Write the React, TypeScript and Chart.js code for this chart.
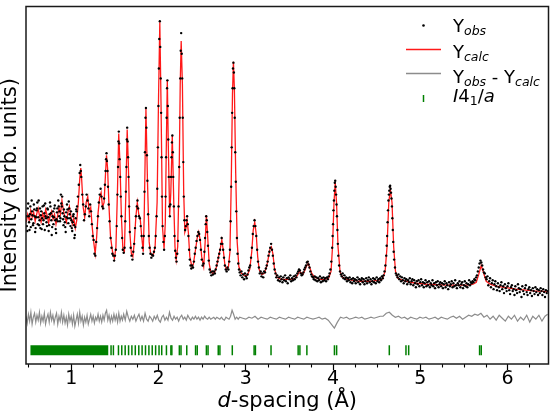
import { useEffect, useRef } from "react";
import { Chart, registerables } from "chart.js";
Chart.register(...registerables);

// ---------- axis ranges & ticks ----------
const xMin = 0.48;
const xMax = 6.47;
const yMin = 0;
const yMax = 363;
const xMajorTicks = [1, 2, 3, 4, 5, 6];
const xMinorTicks = [0.5, 0.75, 1.25, 1.5, 1.75, 2.25, 2.5, 2.75, 3.25, 3.5, 3.75, 4.25, 4.5, 4.75, 5.25, 5.5, 5.75, 6.25];

// ---------- calculated pattern (d, intensity) ----------
const calcPoints: [number, number][] = [
  [0.483, 144], [0.5, 152], [0.517, 146], [0.534, 156], [0.551, 149], [0.568, 154], [0.585, 145], [0.602, 152],
  [0.619, 158], [0.636, 150], [0.653, 144], [0.67, 153], [0.688, 148], [0.705, 157], [0.722, 151], [0.739, 143],
  [0.756, 150], [0.773, 155], [0.79, 147], [0.807, 152], [0.824, 142], [0.841, 150], [0.858, 159], [0.875, 152],
  [0.892, 166], [0.909, 156], [0.926, 149], [0.943, 144], [0.96, 154], [0.977, 160], [0.994, 151], [1.011, 142],
  [1.028, 148], [1.045, 138], [1.062, 146], [1.08, 164], [1.097, 189], [1.108, 199], [1.119, 186], [1.136, 159],
  [1.153, 149], [1.17, 164], [1.188, 170], [1.205, 154], [1.222, 159], [1.239, 139], [1.256, 124], [1.273, 112],
  [1.29, 129], [1.307, 154], [1.324, 169], [1.341, 174], [1.358, 159], [1.375, 164], [1.392, 194], [1.403, 212],
  [1.415, 199], [1.432, 159], [1.449, 129], [1.472, 114], [1.494, 107], [1.511, 119], [1.528, 174], [1.543, 234],
  [1.557, 204], [1.574, 149], [1.591, 116], [1.608, 114], [1.625, 174], [1.64, 238], [1.653, 204], [1.67, 134],
  [1.688, 112], [1.705, 109], [1.722, 124], [1.739, 149], [1.756, 164], [1.773, 152], [1.79, 147], [1.807, 129],
  [1.824, 114], [1.835, 149], [1.855, 259], [1.873, 184], [1.892, 124], [1.909, 112], [1.926, 110], [1.943, 112],
  [1.96, 119], [1.983, 164], [2.0, 274], [2.014, 347], [2.028, 264], [2.045, 139], [2.063, 117], [2.077, 144],
  [2.089, 224], [2.1, 288], [2.111, 224], [2.127, 151], [2.14, 174], [2.157, 232], [2.174, 164], [2.188, 119],
  [2.202, 106], [2.219, 119], [2.236, 194], [2.248, 284], [2.259, 328], [2.273, 284], [2.288, 174], [2.301, 134],
  [2.316, 139], [2.327, 146], [2.341, 134], [2.358, 109], [2.381, 99], [2.398, 101], [2.42, 114], [2.443, 128],
  [2.46, 134], [2.477, 126], [2.494, 109], [2.517, 99], [2.534, 124], [2.548, 151], [2.563, 129], [2.58, 102],
  [2.597, 94], [2.62, 92], [2.642, 93], [2.665, 99], [2.688, 109], [2.705, 116], [2.725, 126], [2.744, 114],
  [2.761, 100], [2.782, 96], [2.801, 99], [2.818, 114], [2.833, 184], [2.847, 274], [2.858, 307], [2.869, 279],
  [2.884, 194], [2.901, 124], [2.92, 99], [2.949, 92], [2.983, 90], [3.017, 90], [3.045, 96], [3.068, 114],
  [3.085, 136], [3.102, 144], [3.119, 132], [3.136, 109], [3.153, 96], [3.182, 91], [3.21, 92], [3.239, 99],
  [3.261, 109], [3.278, 117], [3.293, 119], [3.31, 112], [3.33, 96], [3.358, 88], [3.403, 86], [3.46, 86],
  [3.517, 86], [3.563, 87], [3.591, 90], [3.614, 94], [3.631, 93], [3.653, 91], [3.676, 95], [3.699, 100],
  [3.716, 102], [3.733, 98], [3.756, 92], [3.79, 88], [3.847, 86], [3.903, 86], [3.949, 87], [3.977, 94],
  [3.994, 119], [4.011, 164], [4.025, 184], [4.04, 164], [4.057, 119], [4.08, 94], [4.108, 88], [4.165, 86],
  [4.233, 85], [4.301, 84], [4.37, 84], [4.438, 84], [4.506, 85], [4.563, 86], [4.597, 94], [4.619, 119],
  [4.639, 164], [4.657, 177], [4.676, 164], [4.695, 119], [4.716, 94], [4.744, 87], [4.801, 85], [4.881, 83],
  [4.96, 82], [5.074, 81], [5.188, 80.5], [5.301, 80], [5.415, 80], [5.528, 80], [5.605, 81], [5.642, 83],
  [5.67, 91], [5.699, 100], [5.727, 92], [5.756, 84], [5.801, 81], [5.869, 79], [5.983, 77.5], [6.097, 76],
  [6.21, 75], [6.324, 74], [6.4, 74], [6.46, 73],
];

// ---------- observed pattern (d, intensity) ----------
const obsPoints: [number, number][] = [
  [0.485, 150], [0.49, 140], [0.495, 135], [0.5, 158], [0.505, 163], [0.51, 150], [0.515, 144], [0.52, 136],
  [0.525, 152], [0.53, 160], [0.535, 139], [0.54, 147], [0.545, 166], [0.55, 155], [0.555, 151], [0.56, 141],
  [0.565, 143], [0.57, 162], [0.575, 157], [0.58, 150], [0.585, 134], [0.59, 138], [0.595, 149], [0.6, 156],
  [0.605, 158], [0.61, 164], [0.615, 142], [0.62, 149], [0.625, 166], [0.63, 141], [0.635, 146], [0.64, 158],
  [0.645, 138], [0.65, 151], [0.655, 155], [0.66, 137], [0.665, 148], [0.67, 160], [0.675, 142], [0.68, 146],
  [0.685, 161], [0.69, 153], [0.695, 136], [0.7, 163], [0.705, 150], [0.71, 148], [0.715, 144], [0.72, 140],
  [0.725, 158], [0.73, 157], [0.735, 149], [0.74, 135], [0.745, 141], [0.75, 152], [0.755, 164], [0.76, 160],
  [0.765, 153], [0.77, 146], [0.775, 131], [0.78, 139], [0.785, 150], [0.79, 155], [0.795, 142], [0.8, 149],
  [0.805, 158], [0.81, 161], [0.815, 146], [0.82, 137], [0.825, 133], [0.83, 147], [0.835, 154], [0.84, 158],
  [0.845, 145], [0.85, 166], [0.855, 160], [0.86, 150], [0.865, 155], [0.87, 145], [0.875, 148], [0.88, 172],
  [0.885, 163], [0.89, 160], [0.895, 170], [0.9, 153], [0.905, 147], [0.91, 141], [0.915, 157], [0.92, 150],
  [0.925, 144], [0.93, 139], [0.935, 134], [0.94, 154], [0.945, 149], [0.95, 162], [0.955, 157], [0.96, 148],
  [0.965, 143], [0.97, 165], [0.975, 158], [0.98, 152], [0.985, 148], [0.99, 140], [0.995, 155], [1.0, 146],
  [1.005, 138], [1.01, 135], [1.015, 144], [1.02, 150], [1.025, 152], [1.03, 141], [1.035, 128], [1.04, 131],
  [1.045, 139], [1.05, 148], [1.055, 157], [1.06, 155], [1.065, 160],
  [1.075, 170], [1.085, 182], [1.095, 194], [1.102, 202], [1.108, 196], [1.114, 190], [1.125, 172], [1.135, 162],
  [1.145, 146], [1.155, 152], [1.165, 160], [1.175, 172], [1.185, 166], [1.195, 158], [1.205, 150], [1.215, 162],
  [1.225, 155], [1.235, 142], [1.245, 130], [1.255, 126], [1.265, 112], [1.275, 110], [1.285, 124], [1.295, 138],
  [1.305, 150], [1.315, 164], [1.325, 172], [1.335, 178], [1.345, 170], [1.355, 160], [1.365, 158], [1.375, 168],
  [1.385, 182], [1.392, 196], [1.398, 208], [1.403, 214], [1.408, 206], [1.414, 196], [1.42, 180], [1.428, 162],
  [1.438, 145], [1.45, 128], [1.46, 118], [1.47, 112], [1.48, 110], [1.49, 105], [1.5, 110], [1.51, 116],
  [1.52, 140], [1.528, 172], [1.535, 200], [1.54, 226], [1.544, 236], [1.548, 224], [1.553, 208], [1.56, 190],
  [1.566, 170], [1.574, 150], [1.582, 128], [1.59, 116], [1.6, 113], [1.61, 118], [1.618, 145], [1.625, 175],
  [1.631, 200], [1.636, 228], [1.64, 240], [1.645, 226], [1.65, 210], [1.656, 190], [1.662, 160], [1.67, 134],
  [1.68, 118], [1.69, 110], [1.7, 106], [1.71, 114], [1.72, 122], [1.73, 138], [1.74, 150], [1.75, 160],
  [1.758, 166], [1.765, 158], [1.775, 150], [1.785, 148], [1.795, 140], [1.805, 130], [1.815, 118], [1.822, 112],
  [1.83, 130], [1.838, 175], [1.844, 215], [1.85, 250], [1.855, 260], [1.86, 240], [1.866, 212], [1.872, 186],
  [1.88, 152], [1.888, 130], [1.897, 118], [1.907, 112], [1.917, 108], [1.927, 111], [1.937, 110], [1.947, 114],
  [1.957, 118], [1.967, 130], [1.977, 150], [1.985, 178], [1.992, 220], [1.998, 262], [2.003, 300], [2.008, 330],
  [2.014, 348], [2.019, 322], [2.024, 290], [2.029, 255], [2.034, 210], [2.039, 170], [2.046, 140], [2.055, 124],
  [2.063, 116], [2.072, 130], [2.08, 170], [2.086, 210], [2.092, 250], [2.097, 280], [2.101, 288], [2.106, 262],
  [2.111, 228], [2.117, 190], [2.123, 160], [2.129, 150], [2.135, 162], [2.142, 190], [2.148, 210], [2.153, 225],
  [2.158, 232], [2.163, 215], [2.168, 190], [2.175, 160], [2.182, 130], [2.19, 115], [2.198, 108], [2.206, 104],
  [2.214, 112], [2.222, 125], [2.229, 160], [2.236, 200], [2.242, 250], [2.248, 290], [2.254, 318], [2.259, 336],
  [2.265, 315], [2.271, 290], [2.277, 250], [2.283, 205], [2.289, 170], [2.296, 146], [2.304, 136], [2.312, 140],
  [2.32, 146], [2.327, 150], [2.334, 142], [2.342, 130], [2.35, 116], [2.358, 106], [2.366, 100], [2.375, 97],
  [2.385, 100], [2.395, 98], [2.405, 104], [2.415, 112], [2.425, 118], [2.435, 125], [2.445, 130], [2.455, 134],
  [2.465, 132], [2.475, 126], [2.485, 116], [2.495, 106], [2.505, 100], [2.515, 102], [2.525, 114], [2.533, 128],
  [2.54, 142], [2.546, 150], [2.552, 146], [2.558, 134], [2.566, 120], [2.575, 105], [2.585, 96], [2.595, 93],
  [2.605, 90], [2.615, 94], [2.625, 91], [2.635, 94], [2.645, 92], [2.655, 96], [2.665, 100], [2.675, 104],
  [2.685, 108], [2.695, 112], [2.705, 116], [2.715, 122], [2.723, 128], [2.731, 122], [2.74, 116], [2.75, 108],
  [2.76, 100], [2.77, 96], [2.78, 94], [2.79, 98], [2.8, 96], [2.81, 104], [2.818, 116], [2.825, 145],
  [2.832, 180], [2.838, 220], [2.843, 255], [2.848, 280], [2.853, 300], [2.858, 306], [2.863, 296], [2.868, 280],
  [2.873, 250], [2.879, 215], [2.885, 185], [2.891, 155], [2.898, 128], [2.905, 112], [2.913, 102], [2.922, 96],
  [2.93, 93], [2.94, 90], [2.95, 94], [2.96, 88], [2.97, 91], [2.98, 86], [2.99, 92], [3.0, 89],
  [3.01, 87], [3.02, 91], [3.03, 95], [3.04, 98], [3.05, 100], [3.06, 108], [3.07, 118], [3.08, 132],
  [3.09, 140], [3.1, 146], [3.11, 140], [3.12, 130], [3.13, 116], [3.14, 104], [3.15, 98], [3.16, 92],
  [3.17, 94], [3.18, 89], [3.19, 92], [3.2, 88], [3.21, 94], [3.22, 93], [3.23, 97], [3.24, 100],
  [3.25, 104], [3.26, 110], [3.27, 114], [3.28, 118], [3.29, 122], [3.3, 116], [3.31, 110], [3.32, 102],
  [3.33, 96], [3.34, 92], [3.35, 88], [3.36, 90], [3.37, 85], [3.38, 88], [3.39, 84], [3.4, 89],
  [3.41, 86], [3.42, 83], [3.43, 88], [3.44, 85], [3.45, 90], [3.46, 84], [3.47, 87], [3.48, 82],
  [3.49, 88], [3.5, 86], [3.51, 90], [3.52, 84], [3.53, 87], [3.54, 85], [3.55, 89], [3.56, 86],
  [3.57, 90], [3.58, 88], [3.59, 92], [3.6, 94], [3.61, 96], [3.62, 95], [3.63, 92], [3.64, 90],
  [3.65, 91], [3.66, 93], [3.67, 96], [3.68, 98], [3.69, 100], [3.7, 103], [3.71, 104], [3.72, 101],
  [3.73, 98], [3.74, 94], [3.75, 91], [3.76, 89], [3.77, 88], [3.78, 86], [3.79, 89], [3.8, 85],
  [3.81, 88], [3.82, 84], [3.83, 87], [3.84, 85], [3.85, 89], [3.86, 83], [3.87, 87], [3.88, 84],
  [3.89, 88], [3.9, 85], [3.91, 87], [3.92, 84], [3.93, 88], [3.94, 86], [3.95, 89], [3.96, 92],
  [3.97, 96], [3.98, 104], [3.99, 118], [3.995, 130], [4.0, 142], [4.005, 156], [4.01, 166], [4.015, 176],
  [4.02, 184], [4.025, 186], [4.03, 180], [4.035, 172], [4.04, 162], [4.045, 150], [4.05, 136], [4.055, 122],
  [4.06, 110], [4.07, 100], [4.08, 94], [4.09, 91], [4.1, 89], [4.11, 92], [4.12, 87], [4.13, 90],
  [4.14, 86], [4.15, 88], [4.16, 84], [4.17, 87], [4.18, 85], [4.19, 88], [4.2, 83], [4.21, 86],
  [4.22, 82], [4.23, 87], [4.24, 84], [4.25, 86], [4.26, 82], [4.27, 85], [4.28, 88], [4.29, 83],
  [4.3, 86], [4.31, 81], [4.32, 85], [4.33, 87], [4.34, 83], [4.35, 86], [4.36, 81], [4.37, 84],
  [4.38, 87], [4.39, 82], [4.4, 85], [4.41, 88], [4.42, 83], [4.43, 86], [4.44, 81], [4.45, 84],
  [4.46, 87], [4.47, 83], [4.48, 86], [4.49, 82], [4.5, 88], [4.51, 84], [4.52, 86], [4.53, 83],
  [4.54, 87], [4.55, 85], [4.56, 89], [4.57, 87], [4.58, 90], [4.59, 94], [4.6, 100], [4.61, 110],
  [4.615, 120], [4.62, 130], [4.625, 144], [4.63, 156], [4.635, 166], [4.64, 172], [4.645, 176], [4.65, 180],
  [4.655, 181], [4.66, 178], [4.665, 174], [4.67, 168], [4.675, 160], [4.68, 148], [4.685, 136], [4.69, 124],
  [4.695, 114], [4.7, 106], [4.71, 98], [4.72, 92], [4.73, 90], [4.74, 88], [4.75, 91], [4.76, 86],
  [4.77, 89], [4.78, 84], [4.79, 88], [4.8, 85], [4.81, 82], [4.82, 87], [4.83, 84], [4.84, 86],
  [4.85, 81], [4.86, 85], [4.87, 83], [4.88, 87], [4.89, 81], [4.9, 84], [4.91, 86], [4.92, 80],
  [4.93, 85], [4.94, 82], [4.95, 78], [4.96, 84], [4.97, 81], [4.98, 85], [4.99, 79], [5.0, 83],
  [5.01, 86], [5.02, 80], [5.03, 83], [5.04, 78], [5.05, 82], [5.06, 85], [5.07, 79], [5.08, 83],
  [5.09, 80], [5.1, 84], [5.11, 78], [5.12, 82], [5.13, 80], [5.14, 85], [5.15, 79], [5.16, 82],
  [5.17, 77], [5.18, 83], [5.19, 80], [5.2, 84], [5.21, 78], [5.22, 81], [5.23, 83], [5.24, 79],
  [5.25, 82], [5.26, 77], [5.27, 81], [5.28, 84], [5.29, 78], [5.3, 82], [5.31, 80], [5.32, 76],
  [5.33, 83], [5.34, 79], [5.35, 81], [5.36, 84], [5.37, 78], [5.38, 82], [5.39, 79], [5.4, 85],
  [5.41, 80], [5.42, 77], [5.43, 82], [5.44, 80], [5.45, 84], [5.46, 78], [5.47, 81], [5.48, 83],
  [5.49, 77], [5.5, 80], [5.51, 84], [5.52, 79], [5.53, 82], [5.54, 78], [5.55, 81], [5.56, 85],
  [5.57, 80], [5.58, 83], [5.59, 82], [5.6, 84], [5.61, 83], [5.62, 86], [5.63, 85], [5.64, 88],
  [5.65, 90], [5.66, 94], [5.67, 98], [5.68, 102], [5.69, 105], [5.7, 103], [5.71, 100], [5.72, 96],
  [5.73, 93], [5.74, 92], [5.75, 88], [5.76, 86], [5.77, 89], [5.78, 80], [5.79, 84], [5.8, 87],
  [5.81, 78], [5.82, 82], [5.83, 85], [5.84, 76], [5.85, 81], [5.86, 84], [5.87, 79], [5.88, 75],
  [5.89, 82], [5.9, 78], [5.91, 74], [5.92, 80], [5.93, 83], [5.94, 76], [5.95, 79], [5.96, 72],
  [5.97, 81], [5.98, 77], [5.99, 74], [6.0, 79], [6.01, 82], [6.02, 75], [6.03, 71], [6.04, 78],
  [6.05, 80], [6.06, 74], [6.07, 76], [6.08, 70], [6.09, 79], [6.1, 75], [6.11, 72], [6.12, 81],
  [6.13, 77], [6.14, 73], [6.15, 76], [6.16, 68], [6.17, 79], [6.18, 74], [6.19, 71], [6.2, 77],
  [6.21, 80], [6.22, 73], [6.23, 70], [6.24, 76], [6.25, 78], [6.26, 72], [6.27, 75], [6.28, 69],
  [6.29, 77], [6.3, 74], [6.31, 71], [6.32, 78], [6.33, 73], [6.34, 76], [6.35, 70], [6.36, 75],
  [6.37, 72], [6.38, 77], [6.39, 74], [6.4, 70], [6.41, 76], [6.42, 73], [6.43, 68], [6.44, 75],
  [6.45, 72], [6.46, 74],
];

// ---------- difference curve (d, obs - calc) ----------
const diffPoints: [number, number][] = [
  [0.48, 2], [0.494, -5], [0.508, 4], [0.522, -3], [0.536, 6], [0.55, -6], [0.564, 1], [0.578, 5],
  [0.592, -4], [0.606, 3], [0.62, -2], [0.634, 6], [0.648, -5], [0.662, 2], [0.676, -3], [0.69, 5],
  [0.704, -6], [0.718, 0], [0.732, 4], [0.746, -4], [0.76, 6], [0.774, -2], [0.788, 3], [0.802, -5],
  [0.816, 1], [0.83, 5], [0.844, -6], [0.858, 2], [0.872, -3], [0.886, 6], [0.9, -4], [0.914, 3],
  [0.928, -5], [0.942, 1], [0.956, -7], [0.97, 4], [0.984, -3], [0.998, 2], [1.012, -6], [1.026, 3],
  [1.04, -8], [1.054, -2], [1.068, 4], [1.082, -5], [1.096, 6], [1.11, -3], [1.124, 2], [1.138, -7],
  [1.152, 1], [1.166, -4], [1.18, 3], [1.194, -6], [1.208, -1], [1.222, 4], [1.236, -3], [1.25, 2],
  [1.264, -5], [1.278, 1], [1.292, -2], [1.306, 4], [1.32, -3], [1.334, 2], [1.348, -4], [1.362, 3],
  [1.376, -2], [1.39, 5], [1.404, 8], [1.418, -2], [1.432, 3], [1.446, -4], [1.46, 2], [1.474, -3],
  [1.488, 4], [1.502, -2], [1.516, 3], [1.53, -4], [1.544, 5], [1.558, -3], [1.572, 2], [1.586, -2],
  [1.6, 4], [1.6175, -2], [1.635, 7], [1.6525, 1], [1.67, -3], [1.6875, 2], [1.705, -1], [1.7225, 3],
  [1.74, -3], [1.7575, 1], [1.775, 4], [1.7925, -2], [1.81, 2], [1.8275, -3], [1.845, 5], [1.8625, -1],
  [1.88, -3], [1.8975, 2], [1.915, 0], [1.9325, -3], [1.95, 2], [1.9675, -1], [1.985, 3], [2.0025, -2],
  [2.02, -4], [2.0375, 1], [2.055, 3], [2.0725, -2], [2.09, 1], [2.1075, -2], [2.125, 6], [2.1425, 0],
  [2.16, -2], [2.1775, 2], [2.195, -1], [2.2125, 1], [2.23, -3], [2.2475, 1], [2.265, 3], [2.2825, -1],
  [2.3, 1], [2.3175, -2], [2.335, 3], [2.3525, 0], [2.37, -2], [2.3875, 1], [2.405, -1], [2.4225, 2],
  [2.44, -1], [2.4575, 1], [2.475, -2], [2.4925, 1], [2.51, -1], [2.5275, 2], [2.545, 0], [2.5625, -1],
  [2.58, 1], [2.5975, -1], [2.615, 0], [2.6325, 1], [2.65, -1], [2.6675, 1], [2.685, 0], [2.7025, -1],
  [2.72, 1], [2.7375, -1], [2.755, -2], [2.7725, 1], [2.79, 0], [2.8075, -1], [2.825, 2], [2.8425, 8],
  [2.86, 4], [2.8775, -1], [2.895, 1], [2.9125, -1], [2.93, 1], [2.965, 0],
  [3.0, -1], [3.035, 1], [3.07, 0], [3.105, 2], [3.14, -1], [3.175, 1], [3.21, 0], [3.245, -1],
  [3.28, 1], [3.315, 0], [3.35, -1], [3.385, 1], [3.42, 0], [3.455, -1], [3.49, 1], [3.525, 0],
  [3.56, -1], [3.595, 1], [3.63, 0], [3.665, -1], [3.7, 1], [3.735, 0], [3.77, -1], [3.805, 0],
  [3.84, 1], [3.875, -1], [3.91, 0], [3.945, -2], [3.98, -6], [4.015, -10], [4.05, -4], [4.085, 1],
  [4.12, 0], [4.155, 1], [4.19, -1], [4.225, 0], [4.26, 1], [4.295, 0], [4.33, 1], [4.365, -1],
  [4.4, 0], [4.435, 1], [4.47, 0], [4.505, 1], [4.54, 2], [4.575, 2], [4.61, 5], [4.645, 6],
  [4.68, 3], [4.715, 1], [4.75, 2], [4.785, 0], [4.82, 1], [4.855, -1], [4.89, 1], [4.925, 0],
  [4.96, -1], [4.995, 1], [5.03, 0], [5.065, 1], [5.1, -1], [5.135, 0], [5.17, 1], [5.205, -1],
  [5.24, 1], [5.275, 0], [5.31, -1], [5.345, 1], [5.38, 2], [5.415, 0], [5.45, 2], [5.485, -1],
  [5.52, 1], [5.555, 3], [5.59, 2], [5.625, 4], [5.66, 3], [5.695, 5], [5.73, 1], [5.765, 3],
  [5.8, -1], [5.835, 2], [5.87, -2], [5.905, 3], [5.94, 0], [5.975, -3], [6.01, 2], [6.045, -1],
  [6.08, 3], [6.115, -3], [6.15, 1], [6.185, -2], [6.22, 3], [6.255, -4], [6.29, 2], [6.325, -1],
  [6.36, 3], [6.395, -3], [6.43, 2], [6.46, 4],
];
const diffOffset = 46.5;

// ---------- reflection positions (I4_1/a) ----------
const reflDenseRange = [0.531, 1.423];
const reflPositions = [
  1.455, 1.482, 1.54, 1.578, 1.617, 1.656, 1.694, 1.733, 1.773, 1.811, 1.85, 1.889, 1.927, 1.966,
  2.005, 2.036, 2.09, 2.141, 2.152, 2.238, 2.257, 2.323, 2.424, 2.443, 2.548, 2.567, 2.684, 2.703,
  2.845, 3.095, 3.11, 3.289, 3.6, 3.62, 3.7, 4.016, 4.041, 4.645, 4.836, 4.867, 5.68, 5.699,
];
const reflLevel = 14;

const FONT = '"DejaVu Sans", sans-serif';

type Part = { t: string; f: string; dy?: number };
function drawRich(ctx: CanvasRenderingContext2D, x: number, y: number, parts: Part[], center = false) {
  let total = 0;
  for (const p of parts) {
    ctx.font = p.f;
    total += ctx.measureText(p.t).width;
  }
  let cx = center ? x - total / 2 : x;
  ctx.textAlign = "left";
  ctx.textBaseline = "alphabetic";
  for (const p of parts) {
    ctx.font = p.f;
    ctx.fillText(p.t, cx, y + (p.dy || 0));
    cx += ctx.measureText(p.t).width;
  }
}

const decorPlugin = {
  id: "decor",
  afterDraw(chart: any) {
    const { ctx, chartArea: a, scales } = chart;
    const xs = scales.x;
    ctx.save();
    // minor ticks
    ctx.strokeStyle = "#000";
    ctx.lineWidth = 1.1;
    for (const v of xMinorTicks) {
      const px = Math.round(xs.getPixelForValue(v)) + 0.5;
      ctx.beginPath();
      ctx.moveTo(px, a.bottom);
      ctx.lineTo(px, a.bottom + 3.5);
      ctx.stroke();
    }
    // frame
    ctx.strokeStyle = "#1a1a1a";
    ctx.lineWidth = 1.5;
    ctx.strokeRect(a.left, a.top, a.right - a.left, a.bottom - a.top);

    // x title
    ctx.fillStyle = "#000";
    const cx = (a.left + a.right) / 2;
    drawRich(ctx, cx, 407, [
      { t: "d", f: `italic 21px ${FONT}` },
      { t: "-spacing (Å)", f: `21px ${FONT}` },
    ], true);

    // legend
    const lx = 453;
    const big = `18px ${FONT}`;
    const subI = `italic 12.5px ${FONT}`;
    const bigI = `italic 18px ${FONT}`;
    const sub = `12.5px ${FONT}`;
    // row 1
    ctx.fillStyle = "#000";
    ctx.beginPath();
    ctx.arc(423.5, 25.5, 1.3, 0, Math.PI * 2);
    ctx.fill();
    drawRich(ctx, lx, 32, [{ t: "Y", f: big }, { t: "obs", f: subI, dy: 3 }]);
    // row 2
    ctx.strokeStyle = "rgba(255,0,0,0.9)";
    ctx.lineWidth = 1.3;
    ctx.beginPath();
    ctx.moveTo(406, 49.5);
    ctx.lineTo(441, 49.5);
    ctx.stroke();
    drawRich(ctx, lx, 57.5, [{ t: "Y", f: big }, { t: "calc", f: subI, dy: 3 }]);
    // row 3
    ctx.strokeStyle = "#8c8c8c";
    ctx.beginPath();
    ctx.moveTo(406, 73.5);
    ctx.lineTo(441, 73.5);
    ctx.stroke();
    drawRich(ctx, lx, 82.5, [
      { t: "Y", f: big }, { t: "obs", f: subI, dy: 3 }, { t: " - ", f: big },
      { t: "Y", f: big }, { t: "calc", f: subI, dy: 3 },
    ]);
    // row 4
    ctx.strokeStyle = "#008000";
    ctx.lineWidth = 1.5;
    ctx.beginPath();
    ctx.moveTo(423.5, 95);
    ctx.lineTo(423.5, 102);
    ctx.stroke();
    drawRich(ctx, lx, 101.5, [
      { t: "I", f: bigI }, { t: "4", f: big }, { t: "1", f: sub, dy: 3 },
      { t: "/", f: big }, { t: "a", f: bigI },
    ]);
    ctx.restore();
  },
};

export default function App() {
  const ref = useRef<HTMLCanvasElement | null>(null);
  useEffect(() => {
    if (!ref.current) return;
    const chart = new Chart(ref.current, {
      type: "line",
      data: {
        datasets: [
          {
            label: "Yobs",
            data: obsPoints.map(([x, y]) => ({ x, y })),
            showLine: false,
            pointRadius: 1.2,
            pointBackgroundColor: "#000",
            pointBorderWidth: 0,
            borderColor: "#000",
          },
          {
            label: "Ycalc",
            data: calcPoints.map(([x, y]) => ({ x, y })),
            borderColor: "rgba(255,0,0,0.9)",
            borderWidth: 1.3,
            pointRadius: 0,
            tension: 0,
          },
          {
            label: "Yobs - Ycalc",
            data: diffPoints.map(([x, y]) => ({ x, y: y + diffOffset })),
            borderColor: "#8c8c8c",
            borderWidth: 1.2,
            pointRadius: 0,
            tension: 0,
          },
          {
            label: "I41/a",
            data: reflPositions.map((x) => ({ x, y: reflLevel })),
            showLine: false,
            pointStyle: "line",
            rotation: 90,
            pointRadius: 5,
            borderColor: "#008000",
            pointBorderColor: "#008000",
            pointBorderWidth: 1.5,
          },
          {
            label: "I41/a dense",
            data: reflDenseRange.map((x) => ({ x, y: reflLevel })),
            borderColor: "#008000",
            borderWidth: 10,
            borderCapStyle: "butt",
            pointRadius: 0,
          },
        ] as any,
      },
      options: {
        animation: false,
        responsive: false,
        devicePixelRatio: 1,
        layout: { padding: { left: 0, right: 2, top: 1, bottom: 0 } },
        plugins: { legend: { display: false }, tooltip: { enabled: false } },
        scales: {
          x: {
            type: "linear",
            min: xMin,
            max: xMax,
            afterFit: (s: any) => { s.height = 51; },
            afterBuildTicks: (s: any) => { s.ticks = xMajorTicks.map((v) => ({ value: v })); },
            grid: { display: true, drawOnChartArea: false, drawTicks: true, tickLength: 6, tickColor: "#000", tickWidth: 1.2 },
            border: { display: false },
            ticks: {
              color: "#000",
              font: { family: FONT, size: 19, lineHeight: 1 },
              padding: 0,
              maxRotation: 0,
              autoSkip: false,
            },
          },
          y: {
            type: "linear",
            min: yMin,
            max: yMax,
            afterFit: (s: any) => { s.width = 26; },
            ticks: { display: false },
            grid: { display: false },
            border: { display: false },
            title: {
              display: true,
              text: "Intensity (arb. units)",
              color: "#000",
              font: { family: FONT, size: 21, lineHeight: 1 },
              padding: 0,
            },
          },
        },
      } as any,
      plugins: [decorPlugin],
    });
    return () => chart.destroy();
  }, []);
  return (
    <div style={{ position: "fixed", left: 0, top: 0, width: 555, height: 415, background: "#fff" }}>
      <canvas ref={ref} width={555} height={415} style={{ width: 555, height: 415, display: "block" }} />
    </div>
  );
}
